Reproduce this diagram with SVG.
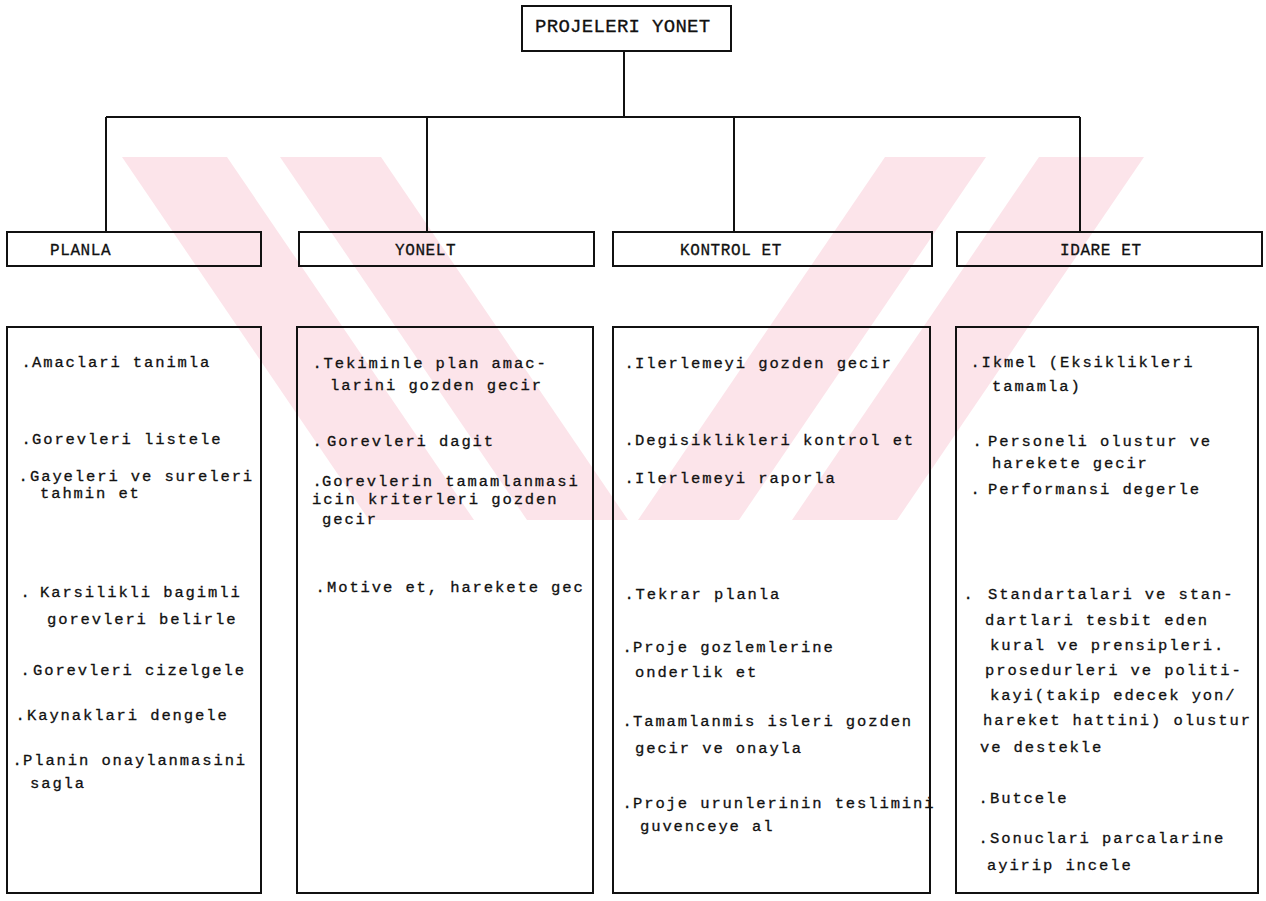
<svg xmlns="http://www.w3.org/2000/svg" width="1266" height="901" viewBox="0 0 1266 901">
<defs>
<style>
.box{fill:none;stroke:#111;stroke-width:2}
.con{fill:none;stroke:#111;stroke-width:2}
.wm{fill:#fce4ea;stroke:none}
.hd{font-family:"Liberation Mono","DejaVu Sans Mono",monospace;font-size:19px;letter-spacing:0.3px;fill:#111;stroke:#111;stroke-width:0.3}
.lb{font-family:"Liberation Mono","DejaVu Sans Mono",monospace;font-size:16px;letter-spacing:0.6px;fill:#111;stroke:#111;stroke-width:0.3}
.tx{font-family:"Liberation Mono","DejaVu Sans Mono",monospace;font-size:15.5px;letter-spacing:1.9px;fill:#111;stroke:#111;stroke-width:0.3}
.d{letter-spacing:-4px}
</style>
<clipPath id="wmclip"><rect x="0" y="157" width="1266" height="363"/></clipPath>
</defs>
<rect x="0" y="0" width="1266" height="901" fill="#fff"/>
<g id="watermark" clip-path="url(#wmclip)">
<polygon class="wm" points="122,157 227,157 474,520 369,520"/>
<polygon class="wm" points="280,157 381,157 628,520 527,520"/>
<polygon class="wm" points="885,157 986,157 739,520 638,520"/>
<polygon class="wm" points="1039,157 1144,157 897,520 792,520"/>
</g>
<g id="connectors">
<path class="con" d="M624,51 V117 M106,117 H1080 M106,117 V232 M427,117 V232 M734,117 V232 M1080,117 V232"/>
</g>
<g id="projeleri-yonet">
<rect class="box" x="522" y="6" width="209" height="45"/>
<text class="hd" x="535" y="32">PROJELERI YONET</text>
</g>
<g id="planla">
<rect class="box" x="7" y="232" width="254" height="34"/>
<text class="lb" x="50" y="255">PLANLA</text>
</g>
<g id="yonelt">
<rect class="box" x="299" y="232" width="295" height="34"/>
<text class="lb" x="395" y="255">YONELT</text>
</g>
<g id="kontrol-et">
<rect class="box" x="613" y="232" width="319" height="34"/>
<text class="lb" x="680" y="255">KONTROL ET</text>
</g>
<g id="idare-et">
<rect class="box" x="957" y="232" width="305" height="34"/>
<text class="lb" x="1060" y="255">IDARE ET</text>
</g>
<g id="planla-tasks">
<rect class="box" x="7" y="327" width="254" height="566"/>
<text class="tx" x="21.4" y="367"><tspan class="d">. </tspan>Amaclari tanimla</text>
<text class="tx" x="21.4" y="444"><tspan class="d">. </tspan>Gorevleri listele</text>
<text class="tx" x="18.4" y="481"><tspan class="d" style="letter-spacing:-3.5px">. </tspan>Gayeleri ve sureleri</text>
<text class="tx" x="40" y="498">tahmin et</text>
<text class="tx" x="20.4" y="597"><tspan class="d" style="letter-spacing:0.5px">. </tspan>Karsilikli bagimli</text>
<text class="tx" x="47" y="624">gorevleri belirle</text>
<text class="tx" x="20.4" y="675"><tspan class="d" style="letter-spacing:-3px">. </tspan>Gorevleri cizelgele</text>
<text class="tx" x="15.4" y="720"><tspan class="d" style="letter-spacing:-3.5px">. </tspan>Kaynaklari dengele</text>
<text class="tx" x="12.4" y="765"><tspan class="d">. </tspan>Planin onaylanmasini</text>
<text class="tx" x="30" y="788">sagla</text>
</g>
<g id="yonelt-tasks">
<rect class="box" x="297" y="327" width="296" height="566"/>
<text class="tx" x="312.4" y="368">.Tekiminle plan amac-</text>
<text class="tx" x="330" y="390">larini gozden gecir</text>
<text class="tx" x="312.4" y="446"><tspan class="d" style="letter-spacing:-2px">. </tspan>Gorevleri dagit</text>
<text class="tx" x="312.4" y="486"><tspan class="d" style="letter-spacing:-4.5px">. </tspan>Gorevlerin tamamlanmasi</text>
<text class="tx" x="312" y="504">icin kriterleri gozden</text>
<text class="tx" x="322" y="524">gecir</text>
<text class="tx" x="315.4" y="592"><tspan class="d" style="letter-spacing:-3.5px">. </tspan>Motive et, harekete gec</text>
</g>
<g id="kontrol-tasks">
<rect class="box" x="613" y="327" width="317" height="566"/>
<text class="tx" x="624.4" y="368"><tspan class="d">. </tspan>Ilerlemeyi gozden gecir</text>
<text class="tx" x="624.4" y="445"><tspan class="d">. </tspan>Degisiklikleri kontrol et</text>
<text class="tx" x="624.4" y="483"><tspan class="d">. </tspan>Ilerlemeyi raporla</text>
<text class="tx" x="624.4" y="599">.Tekrar planla</text>
<text class="tx" x="622.4" y="652"><tspan class="d">. </tspan>Proje gozlemlerine</text>
<text class="tx" x="635" y="677">onderlik et</text>
<text class="tx" x="622.4" y="726"><tspan class="d">. </tspan>Tamamlanmis isleri gozden</text>
<text class="tx" x="635" y="753">gecir ve onayla</text>
<text class="tx" x="622.4" y="808"><tspan class="d">. </tspan>Proje urunlerinin teslimini</text>
<text class="tx" x="640" y="831">guvenceye al</text>
</g>
<g id="idare-tasks">
<rect class="box" x="956" y="327" width="302" height="566"/>
<text class="tx" x="970.4" y="367">.Ikmel (Eksiklikleri</text>
<text class="tx" x="992" y="391">tamamla)</text>
<text class="tx" x="972.4" y="446"><tspan class="d" style="letter-spacing:-1.5px">. </tspan>Personeli olustur ve</text>
<text class="tx" x="992" y="468">harekete gecir</text>
<text class="tx" x="970.4" y="494"><tspan class="d" style="letter-spacing:-0.5px">. </tspan>Performansi degerle</text>
<text class="tx" x="963.4" y="599"><tspan class="d" style="letter-spacing:3px">. </tspan>Standartalari ve stan-</text>
<text class="tx" x="985" y="625">dartlari tesbit eden</text>
<text class="tx" x="990" y="650">kural ve prensipleri.</text>
<text class="tx" x="985" y="675">prosedurleri ve politi-</text>
<text class="tx" x="990" y="700">kayi(takip edecek yon/</text>
<text class="tx" x="983" y="725">hareket hattini) olustur</text>
<text class="tx" x="980" y="752">ve destekle</text>
<text class="tx" x="978.4" y="803"><tspan class="d" style="letter-spacing:-3.5px">. </tspan>Butcele</text>
<text class="tx" x="978.4" y="843"><tspan class="d" style="letter-spacing:-3.5px">. </tspan>Sonuclari parcalarine</text>
<text class="tx" x="987" y="870">ayirip incele</text>
</g>
</svg>
